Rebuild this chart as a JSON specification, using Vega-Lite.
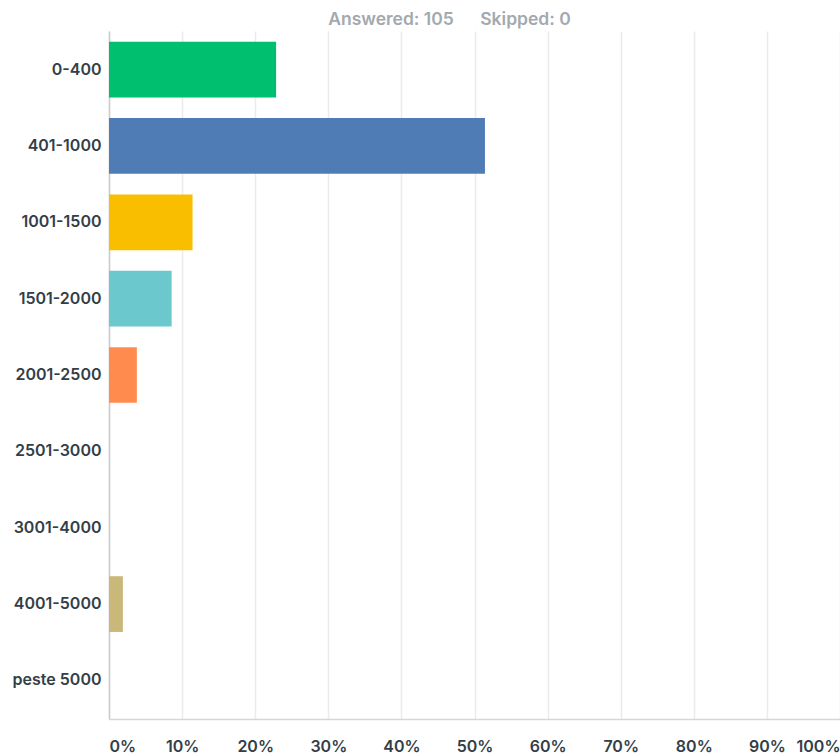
{
  "$schema": "https://vega.github.io/schema/vega-lite/v6.json",
  "autosize": "none",
  "padding": {"left": 109, "top": 31, "right": 0, "bottom": 35},
  "width": 731,
  "height": 688,
  "background": "white",
  "title": {
    "text": "Answered: 105\u00a0\u00a0\u00a0\u00a0\u00a0\u00a0Skipped: 0",
    "anchor": "middle",
    "dx": -25,
    "offset": 3,
    "font": "Inter",
    "fontSize": 17.5,
    "fontWeight": 600,
    "color": "#a3a9ae"
  },
  "config": {"view": {"stroke": null}},
  "data": {
    "values": [
      {"range": "0-400", "share": 0.2286},
      {"range": "401-1000", "share": 0.5143},
      {"range": "1001-1500", "share": 0.1143},
      {"range": "1501-2000", "share": 0.0857},
      {"range": "2001-2500", "share": 0.0381},
      {"range": "2501-3000", "share": 0},
      {"range": "3001-4000", "share": 0},
      {"range": "4001-5000", "share": 0.019},
      {"range": "peste 5000", "share": 0}
    ]
  },
  "mark": {"type": "bar"},
  "encoding": {
    "y": {
      "field": "range",
      "type": "nominal",
      "sort": null,
      "title": null,
      "scale": {"paddingInner": 0.27, "paddingOuter": 0.14},
      "axis": {
        "domainColor": "#cccccc",
        "domainWidth": 1.5,
        "ticks": false,
        "labelPadding": 8,
        "labelFont": "Inter",
        "labelFontSize": 16,
        "labelFontWeight": 600,
        "labelColor": "#333e48"
      }
    },
    "x": {
      "field": "share",
      "type": "quantitative",
      "title": null,
      "scale": {"domain": [0, 1]},
      "axis": {
        "values": [0, 0.1, 0.2, 0.3, 0.4, 0.5, 0.6, 0.7, 0.8, 0.9, 1],
        "format": ".0%",
        "grid": true,
        "gridColor": "#ebebeb",
        "gridWidth": 1.5,
        "domainColor": "#d6d6d6",
        "domainWidth": 1.5,
        "ticks": false,
        "labelFlush": true,
        "labelPadding": 19,
        "labelFont": "Inter",
        "labelFontSize": 16,
        "labelFontWeight": 600,
        "labelColor": "#333e48"
      }
    },
    "color": {
      "field": "range",
      "type": "nominal",
      "legend": null,
      "scale": {
        "domain": ["0-400", "401-1000", "1001-1500", "1501-2000", "2001-2500", "2501-3000", "3001-4000", "4001-5000", "peste 5000"],
        "range": ["#00bf6f", "#507cb6", "#f9be00", "#6bc8cd", "#ff8b4f", "#7d5ba6", "#d25f90", "#c9b87a", "#e05a46"]
      }
    }
  }
}
